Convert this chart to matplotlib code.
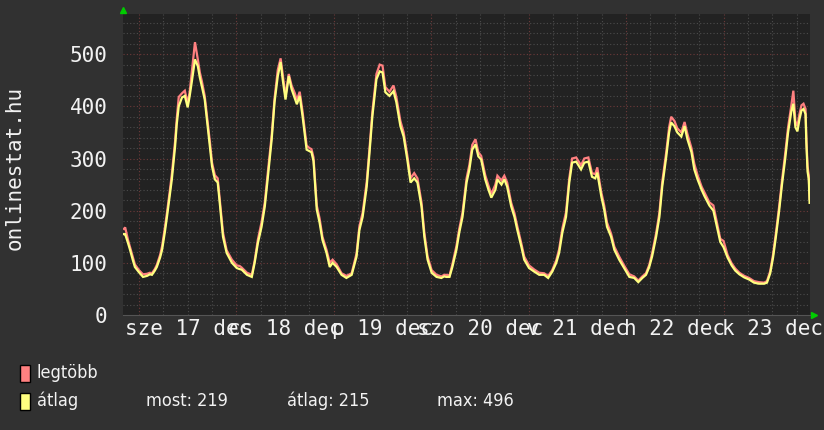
import numpy as np
import matplotlib
matplotlib.use('Agg')
import matplotlib.pyplot as plt
from matplotlib.patches import Rectangle

# hours since 17 dec 00:00, average and max online users
hours = [-3.7, -3.4, -2.7, -2.2, -1.5, -1.0, 0.0, 1.0, 2.0, 2.7, 3.2, 3.9, 4.4, 5.2, 5.7, 6.4, 6.9, 7.6, 8.1, 8.9,
         9.3, 9.8, 10.6, 11.3, 12.0, 12.5, 13.0, 13.8, 14.5, 15.0, 15.5, 16.2, 17.0, 17.5, 18.0, 18.7, 19.4,
         19.9, 20.7, 21.6, 22.9, 24.1, 24.8, 25.3, 26.6, 27.8, 28.5, 29.3, 30.2, 31.0, 31.7, 32.7, 33.4, 34.2,
         34.9, 35.4, 36.1, 36.9, 37.6, 38.4, 38.9, 39.6, 40.3, 41.3, 42.0, 42.5, 43.0,
         43.8, 44.5, 45.2, 46.2, 47.0, 47.7, 48.7, 49.9, 51.1, 52.4, 53.6, 54.3, 55.1, 56.1, 56.8, 57.5, 58.5,
         59.3, 60.0, 60.7, 61.7, 62.7, 63.4, 64.4, 65.2, 66.1,
         66.9, 67.8, 68.6, 69.6, 70.3, 71.1, 72.1, 73.3, 74.5, 75.2, 75.7, 76.5, 77.2, 78.2, 78.9, 79.7, 80.7,
         81.4, 82.1, 82.9, 83.6, 84.3, 85.3, 86.1, 86.8, 87.8, 88.3, 89.3,
         90.0, 90.7, 91.7, 92.5, 93.2, 94.2, 94.9, 96.1, 97.4, 98.6, 99.8, 100.8, 101.8, 102.8, 103.5, 104.3,
         105.2, 106.0, 106.7, 107.7, 108.9, 109.7, 110.7, 111.6, 112.4, 112.9, 113.4,
         113.9, 114.6, 115.3, 116.3, 117.1, 118.3, 119.5, 120.8, 122.0, 123.0, 124.0, 124.9, 125.7, 126.4,
         127.4, 128.2, 128.9, 129.9, 130.6, 131.1, 131.9, 132.6, 133.6, 134.4, 135.1, 136.1, 136.8, 137.6,
         138.6, 139.3,
         140.5, 141.5, 142.5, 143.2, 144.0, 145.0, 146.0, 146.9, 147.9, 149.1, 150.3, 151.5, 152.7, 154.0,
         154.7, 155.5, 156.2, 156.9, 157.7, 158.4, 159.2, 159.9, 160.7, 161.2, 161.7, 162.2, 162.7, 163.2,
         163.7, 164.2, 164.4, 164.7, 165.0, 165.2]
atlag = [155, 155, 138, 125, 105, 92, 82, 73, 75, 78, 77, 85, 92, 110, 125, 160, 188, 230, 260, 323,
         365, 400, 417, 420, 398, 420, 446, 490, 477, 455, 438, 413, 356, 320, 285, 260, 254,
         215, 150, 119, 100, 90, 88, 87, 77, 73, 100, 138, 169, 208, 260, 337, 408, 458,
         485, 452, 413, 458, 433, 415, 404, 420, 381, 317, 314, 312, 295,
         202, 177, 144, 119, 92, 100, 92, 77, 71, 77, 112, 163, 188, 246, 312, 381, 452,
         467, 465, 427, 420, 429, 408, 362, 342, 298,
         254, 262, 254, 208, 150, 106, 81, 73, 71, 74, 73, 73, 92, 125, 158, 188, 254,
         279, 317, 327, 304, 298, 260, 240, 225, 240, 260, 250,
         260, 246, 208, 188, 163, 131, 106, 90, 83, 77, 77, 71, 83, 100, 119, 158,
         188, 254, 292, 294, 279, 292, 294, 265, 262, 273, 250,
         227, 202, 169, 150, 125, 106, 90, 73, 71, 63, 71, 77, 92, 112,
         150, 188, 246, 304, 350, 369, 362, 350, 342, 362, 337, 312, 279, 260,
         240, 228,
         210, 200, 165, 140, 130, 110, 95, 85, 78, 72, 68, 62, 60, 60,
         62, 80, 110, 150, 200, 250, 300, 350, 390, 405, 360, 352, 375, 392,
         395, 385, 330, 275, 260, 215]
legtobb = [165, 168, 144, 130, 110, 97, 86, 78, 79, 81, 80, 88, 96, 115, 132, 168, 196, 238, 270, 333,
           375, 418, 425, 430, 405, 428, 465, 523, 490, 465, 448, 420, 365, 330, 292, 268, 262,
           222, 158, 124, 106, 95, 94, 91, 81, 77, 104, 145, 178, 216, 270, 345, 415, 470,
           492, 462, 420, 462, 440, 425, 412, 428, 390, 325, 320, 318, 302,
           210, 185, 150, 125, 100, 106, 97, 80, 75, 80, 118, 170, 196, 255, 320, 390, 462,
           480, 478, 437, 428, 440, 418, 372, 350, 306,
           262, 272, 262, 216, 158, 112, 86, 77, 74, 77, 77, 76, 97, 132, 165, 196, 262,
           288, 326, 337, 312, 305, 268, 248, 232, 250, 267, 258,
           267, 254, 215, 195, 170, 137, 112, 95, 87, 81, 80, 75, 86, 105, 126, 166,
           197, 262, 300, 302, 287, 300, 302, 272, 270, 283, 258,
           235, 210, 177, 156, 131, 112, 95, 78, 74, 66, 74, 80, 96, 118,
           157, 196, 255, 313, 360, 380, 372, 358, 350, 370, 347, 320, 290, 268,
           246, 235,
           216, 210, 172, 146, 142, 115, 99, 89, 81, 75, 71, 65, 63, 62,
           65, 84, 116, 157, 208, 258, 310, 360, 402, 430, 372, 362, 385, 402,
           405, 395, 340, 285, 268, 222]

day_labels = ['sze 17 dec', 'cs 18 dec', 'p 19 dec', 'szo 20 dec', 'v 21 dec', 'h 22 dec', 'k 23 dec']
label_hours = [12, 36, 60, 84, 108, 132, 156]
y_ticks = [0, 100, 200, 300, 400, 500]
stats = ['most: 219', 'átlag: 215', 'max: 496']

BG, PLOT_BG = '#313131', '#222222'
RED, YEL = '#ff8080', '#ffff80'
TXT = '#f2f2f2'
MONO = 'DejaVu Sans Mono'

fig = plt.figure(figsize=(8.24, 4.30), dpi=100, facecolor=BG)
ax = fig.add_axes([123/824, 115/430, 687/824, 301/430], facecolor=PLOT_BG)
ax.set_xlim(-3.93, 165.3); ax.set_ylim(0, 577)

# grid: dotted, red for the major lines
for v in range(20, 577, 20):
    major = v % 100 == 0
    ax.axhline(v, color='#6e3a3a' if major else '#4c4c4c', lw=0.8, ls=(0, (1, 2)), zorder=1)
for h in range(0, 166, 6):
    major = h % 24 == 0
    ax.axvline(h, color='#6e3a3a' if major else '#4c4c4c', lw=0.8, ls=(0, (1, 2)), zorder=1)

ax.plot(hours, legtobb, color=RED, lw=1.6, zorder=3, solid_joinstyle='miter')
ax.plot(hours, atlag, color=YEL, lw=1.6, zorder=4, solid_joinstyle='miter')

for s in ['top', 'right', 'left']: ax.spines[s].set_visible(False)
ax.spines['bottom'].set_color('#555555')

ax.set_yticks(y_ticks)
ax.set_yticklabels([str(v) for v in y_ticks], fontfamily=MONO, fontsize=15, color=TXT)
ax.set_xticks(label_hours)
ax.set_xticklabels(day_labels, fontfamily=MONO, fontsize=15, color=TXT)
ax.tick_params(axis='y', length=0, pad=11)
ax.tick_params(axis='x', length=0, pad=3)

# little green arrows at the axis ends
ax.plot([0], [1.012], marker='^', color='#00cc00', ms=5, transform=ax.transAxes, clip_on=False)
ax.plot([1.006], [0], marker='>', color='#00cc00', ms=5, transform=ax.transAxes, clip_on=False)

fig.text(15/824, 1-168/430, 'onlinestat.hu', rotation=90, ha='center', va='center',
         fontfamily=MONO, fontsize=15, color=TXT)

# legend (narrow font like the original)
LEG = dict(fontfamily='DejaVu Sans', fontstretch='condensed', fontsize=13, color=TXT)
for (y0, col, name) in [(365, RED, 'legtöbb'), (393, YEL, 'átlag')]:
    fig.patches.append(Rectangle((20/824, 1-(y0+17)/430), 10/824, 17/430, transform=fig.transFigure,
                                 facecolor=col, edgecolor='black', lw=1))
    fig.text(37/824, 1-(y0+8)/430, name, ha='left', va='center', **LEG)
for xs, s in zip([146, 287, 437], stats):
    fig.text(xs/824, 1-401/430, s, ha='left', va='center', **LEG)

plt.savefig('out.png', dpi=100, facecolor=BG)
plt.close()
